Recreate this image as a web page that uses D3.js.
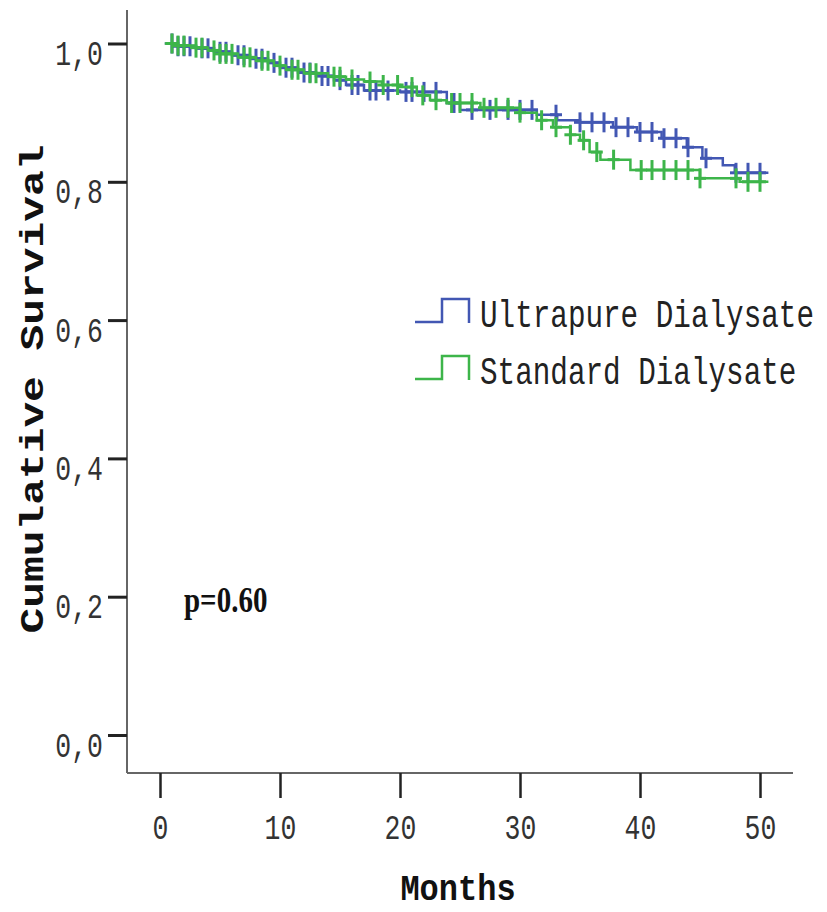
<!DOCTYPE html>
<html>
<head>
<meta charset="utf-8">
<script src="https://cdn.jsdelivr.net/npm/d3@7"></script>
<style>
	body { margin: 0; background: #fff; }
	svg { display: block; }
</style>
</head>
<body>
<svg id="chart" width="827" height="912"></svg>
<script>
// Kaplan-Meier steps (months, cumulative survival)
var upTimes = [0.4, 1.5, 3, 4.5, 6, 7.5, 9, 10, 11.5, 13, 14.5, 15.5, 17, 20, 23.9, 25, 31.4, 33.1, 35, 37.75, 39.75, 41.8, 43.9, 45.2, 46.9, 47.9, 50.7];
var upSurv = [1.0, 0.996, 0.993, 0.988, 0.983, 0.978, 0.972, 0.965, 0.958, 0.953, 0.947, 0.94, 0.932, 0.93, 0.914, 0.904, 0.897, 0.889, 0.886, 0.879, 0.872, 0.863, 0.85, 0.834, 0.824, 0.813, 0.813];
var upCensor = [1, 1.5, 2, 2.5, 3.5, 4, 5, 5.5, 6.5, 7, 8, 8.5, 9.5, 10.5, 11, 12, 12.5, 13.5, 14, 15, 16, 16.5, 17.5, 18, 19, 20.5, 21, 22, 23, 24.5, 26, 27.5, 29, 30, 31, 33, 35, 36, 37, 38, 39, 40, 41, 42, 43, 44, 45.5, 48, 49, 50];

var sdTimes = [0.4, 1.5, 3, 4, 5, 6.5, 8, 9.5, 10.5, 12, 14, 15.5, 17, 18.5, 20, 21.4, 22.5, 23.9, 26.7, 30, 31.4, 32.75, 34.2, 35, 35.8, 36.7, 39.2, 45, 48.3, 50.7];
var sdSurv = [1.0, 0.997, 0.994, 0.99, 0.985, 0.98, 0.975, 0.968, 0.962, 0.957, 0.952, 0.948, 0.945, 0.94, 0.937, 0.925, 0.918, 0.914, 0.907, 0.9, 0.889, 0.879, 0.868, 0.86, 0.843, 0.832, 0.817, 0.805, 0.8, 0.8];
var sdCensor = [1, 1.5, 2, 3, 3.5, 4.5, 5, 5.5, 6, 7, 7.5, 8.5, 9, 10, 11, 11.5, 12.5, 13, 14.5, 15, 16, 17.5, 18.6, 19.8, 21, 21.9, 23, 24.3, 25, 26, 27, 28, 29, 30, 31.8, 33, 34.2, 35.3, 36.4, 37.8, 40.1, 41, 42, 43, 44, 45, 48, 49, 50];

var seriesNames = ['Ultrapure Dialysate', 'Standard Dialysate'];
var seriesColors = ['#4257b3', '#3db54a'];
var xTicks = [0, 10, 20, 30, 40, 50];
var yTicks = [0, 0.2, 0.4, 0.6, 0.8, 1.0];
var pText = 'p=0.60';

// the original picture is stretched vertically, so text is too
var SY = 1.3;
var mono = '"Liberation Mono", "Courier New", monospace';

var svg = d3.select('#chart');
var x = d3.scaleLinear().domain([0, 50]).range([160, 760]);
var y = d3.scaleLinear().domain([0, 1]).range([735, 43.5]);

var axisLeft = 127, axisBottom = 773;

// axis lines
svg.append('line')
	.attr('x1', axisLeft).attr('x2', axisLeft)
	.attr('y1', 10).attr('y2', axisBottom)
	.style('stroke', '#666').style('stroke-width', 2);
svg.append('line')
	.attr('x1', axisLeft).attr('x2', 793)
	.attr('y1', axisBottom).attr('y2', axisBottom)
	.style('stroke', '#666').style('stroke-width', 2);

var yAxis = svg.append('g')
	.attr('transform', 'translate(' + axisLeft + ',0)')
	.call(d3.axisLeft(y).tickValues(yTicks).tickSize(19).tickSizeOuter(0)
		.tickFormat(function(d) { return d3.format('.1f')(d).replace('.', ','); }));
yAxis.select('.domain').remove();
yAxis.selectAll('.tick line').style('stroke', '#222').style('stroke-width', 3);
yAxis.selectAll('.tick text')
	.attr('x', null).attr('y', null).attr('dy', null)
	.attr('text-anchor', 'end')
	.attr('transform', 'translate(-24,21) scale(1,' + SY + ')')
	.style('font-family', mono).style('font-size', '26.5px').style('fill', '#333');

var xAxis = svg.append('g')
	.attr('transform', 'translate(0,' + axisBottom + ')')
	.call(d3.axisBottom(x).tickValues(xTicks).tickSize(25).tickSizeOuter(0));
xAxis.select('.domain').remove();
xAxis.selectAll('.tick line').style('stroke', '#222').style('stroke-width', 2.5);
xAxis.selectAll('.tick text')
	.attr('x', null).attr('y', null).attr('dy', null)
	.attr('text-anchor', 'middle')
	.attr('transform', 'translate(0,66) scale(1,' + SY + ')')
	.style('font-family', mono).style('font-size', '26.5px').style('fill', '#333');

// axis titles
svg.append('text')
	.attr('transform', 'translate(43,389) rotate(-90) scale(' + SY + ',1)')
	.attr('text-anchor', 'middle')
	.style('font-family', mono).style('font-weight', 'bold').style('font-size', '33px')
	.style('fill', '#111')
	.text('Cumulative Survival');
svg.append('text')
	.attr('transform', 'translate(458,900) scale(1,1.15)')
	.attr('text-anchor', 'middle')
	.style('font-family', mono).style('font-weight', 'bold').style('font-size', '32px')
	.style('fill', '#111')
	.text('Months');

svg.append('text')
	.attr('transform', 'translate(184,612) scale(1,1.25)')
	.style('font-family', '"Liberation Serif", "Times New Roman", serif')
	.style('font-weight', 'bold').style('font-size', '29px').style('fill', '#111')
	.text(pText);

// survival at time t for a step curve
function survAt(times, surv, t) {
	var i = d3.bisectRight(times, t) - 1;
	return surv[Math.max(0, i)];
}

var series = [
	{ times: upTimes, surv: upSurv, censor: upCensor, color: seriesColors[0] },
	{ times: sdTimes, surv: sdSurv, censor: sdCensor, color: seriesColors[1] }
];

var line = d3.line()
	.x(function(d) { return x(d[0]); })
	.y(function(d) { return y(d[1]); })
	.curve(d3.curveStepAfter);

series.forEach(function(s) {
	var g = svg.append('g');
	var pts = s.times.map(function(t, i) { return [t, s.surv[i]]; });
	g.append('path')
		.attr('d', line(pts))
		.style('fill', 'none')
		.style('stroke', s.color)
		.style('stroke-width', 2.5);
	var marks = g.selectAll('g.censor')
		.data(s.censor)
		.enter().append('g')
		.attr('class', 'censor')
		.attr('transform', function(t) {
			return 'translate(' + x(t) + ',' + y(survAt(s.times, s.surv, t)) + ')';
		});
	marks.append('line')
		.attr('x1', 0).attr('x2', 0).attr('y1', -10).attr('y2', 10)
		.style('stroke', s.color).style('stroke-width', 3);
	marks.append('line')
		.attr('x1', -6).attr('x2', 6).attr('y1', 0).attr('y2', 0)
		.style('stroke', s.color).style('stroke-width', 3);
});

// legend
var legend = svg.append('g');
var legendY = [322, 379];
seriesNames.forEach(function(name, i) {
	var by = legendY[i];
	legend.append('path')
		.attr('d', 'M415,' + by + 'H442V' + (by - 23) + 'H469V' + (by + 1))
		.style('fill', 'none')
		.style('stroke', seriesColors[i])
		.style('stroke-width', 2.5);
	legend.append('text')
		.attr('transform', 'translate(480,' + (by + 5) + ') scale(1,' + SY + ')')
		.style('font-family', mono).style('font-size', '29.3px').style('fill', '#222')
		.text(name);
});
</script>
</body>
</html>
